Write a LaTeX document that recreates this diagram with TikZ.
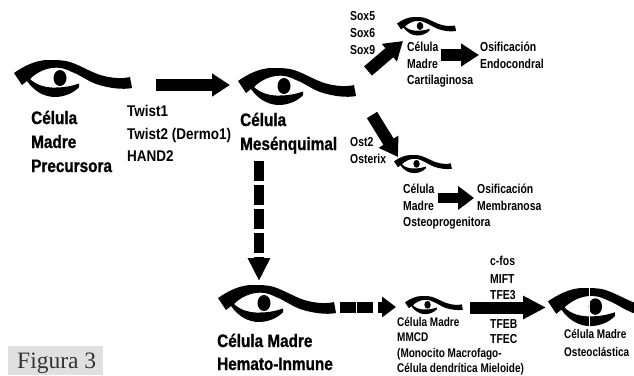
\documentclass[tikz,border=0pt]{standalone}
\usepackage{fontspec}
\newfontfamily\heavylab{Liberation Sans Bold}[FakeStretch=0.85,FakeBold=1.0]
\newfontfamily\midlab{Liberation Sans Bold}[FakeStretch=0.87]
\newfontfamily\smalllab{Liberation Sans Bold}[FakeStretch=0.80]
\newfontfamily\serifcap{Liberation Serif}
\usetikzlibrary{arrows.meta}
\tikzset{
  x=1pt,y=-1pt,
  big/.style={anchor=base west,inner sep=0pt,font=\fontsize{18}{18}\selectfont\heavylab},
  mid/.style={anchor=base west,inner sep=0pt,font=\fontsize{15.5}{15.5}\selectfont\midlab},
  small/.style={anchor=base west,inner sep=0pt,font=\fontsize{13}{13}\selectfont\smalllab},
  tiny/.style={anchor=base west,inner sep=0pt,font=\fontsize{12.5}{12.5}\selectfont\smalllab},
  eye/.pic={
    \fill[black] (0,13) .. controls (10,6) and (22,0) .. (34,0)
      .. controls (42,0) and (50,0) .. (56,2)
      .. controls (68,6) and (80,14) .. (90,16)
      .. controls (98,18) and (108,19) .. (116,17)
      -- (118,28)
      .. controls (108,30) and (94,28) .. (82,24)
      .. controls (72,20) and (66,15) .. (58,12)
      .. controls (50,8) and (44,7) .. (38,8)
      .. controls (30,9) and (22,13) .. (16,19)
      .. controls (22,25) and (32,28) .. (42,27.5)
      .. controls (50,27.5) and (58,26) .. (65,23.5)
      -- (65,27)
      .. controls (60,33) and (50,37) .. (41,37)
      .. controls (30,37) and (20,31) .. (13,21)
      -- (8,25) -- cycle;
    \fill[black] (46,18) ellipse [x radius=6.5,y radius=8];
  },
  blockarrow/.style={line width=#1,draw=black},
  tipA/.style={-{Triangle[width=22pt,length=18pt,fill=black]}},
}
\begin{document}
\begin{tikzpicture}
\clip (0,0) rectangle (634,375);
\fill[white] (0,0) rectangle (634,375);

% eyes
\pic at (14,60) {eye};
\pic at (238,68) {eye};
\pic at (218,285) {eye};
\pic[scale=0.5] at (397,17) {eye};
\pic[scale=0.49] at (394,155) {eye};
\pic[scale=0.49] at (405,296) {eye};
\pic[scale=1.03] at (548,288) {eye};
\draw[white,line width=1pt] (589,286) -- (589,330);

% connector ends
\coordinate (a1) at (156,85);  \coordinate (b1) at (230,85);
\coordinate (a2) at (259,161); \coordinate (b2) at (259,281);
\coordinate (a3) at (368,71);  \coordinate (b3) at (403,41);
\coordinate (a4) at (441,55);  \coordinate (b4) at (479,55);
\coordinate (a5) at (372,115); \coordinate (b5) at (398,157);
\coordinate (a6) at (438,198); \coordinate (b6) at (474,198);
\coordinate (a7) at (340,307); \coordinate (b7) at (396,307);
\coordinate (a8) at (470,307.5); \coordinate (b8) at (546,307.5);

% connectors
\draw[blockarrow=12pt,tipA] (a1) -- (b1);
\draw[blockarrow=10pt,dash pattern=on 20pt off 4pt,-{Triangle[width=21pt,length=23pt,fill=black]}] (a2) -- (b2);
\draw[blockarrow=12pt,tipA] (a3) -- (b3);
\draw[blockarrow=12pt,tipA] (a4) -- (b4);
\draw[blockarrow=12pt,tipA] (a5) -- (b5);
\draw[blockarrow=10pt,-{Triangle[width=23pt,length=16pt,fill=black]}] (a6) -- (b6);
\draw[blockarrow=11pt,dash pattern=on 16pt off 1pt on 16pt off 5pt,-{Triangle[width=20pt,length=14pt,fill=black]}] (a7) -- (b7);
\draw[blockarrow=12pt,-{Triangle[width=22pt,length=23pt,fill=black]}] (a8) -- (b8);

% labels
\node[big] (t1) at (31,124) {Célula};
\node[big] (t2) at (31,148) {Madre};
\node[big] (t3) at (31,172) {Precursora};
\node[mid] (t4) at (127,116) {Twist1};
\node[mid] (t5) at (127,139) {Twist2 (Dermo1)};
\node[mid] (t6) at (127,161) {HAND2};
\node[big] (t7) at (240,126) {Célula};
\node[big] (t8) at (240,150) {Mesénquimal};
\node[small] (t9) at (350,20) {Sox5};
\node[small] (t10) at (350,37) {Sox6};
\node[small] (t11) at (350,54) {Sox9};
\node[small] (t12) at (407,51) {Célula};
\node[small] (t13) at (407,68) {Madre};
\node[small] (t14) at (407,84) {Cartilaginosa};
\node[small] (t15) at (480,51) {Osificación};
\node[small] (t16) at (480,68) {Endocondral};
\node[small] (t17) at (350,146) {Ost2};
\node[small] (t18) at (350,163) {Osterix};
\node[small] (t19) at (403,193) {Célula};
\node[small] (t20) at (403,210) {Madre};
\node[small] (t21) at (403,226) {Osteoprogenitora};
\node[small] (t22) at (477,193) {Osificación};
\node[small] (t23) at (477,210) {Membranosa};
\node[big] (t24) at (217,347) {Célula Madre};
\node[big] (t25) at (217,370) {Hemato-Inmune};
\node[tiny] (t26) at (397,326) {Célula Madre};
\node[tiny] (t27) at (397,341) {MMCD};
\node[tiny] (t28) at (397,357) {(Monocito Macrofago-};
\node[tiny] (t29) at (397,372) {Célula dendrítica Mieloide)};
\node[small] (t30) at (490,265) {c-fos};
\node[small] (t31) at (490,283) {MIFT};
\node[small] (t32) at (490,299) {TFE3};
\node[small] (t33) at (490,328) {TFEB};
\node[small] (t34) at (490,343) {TFEC};
\node[tiny] (t35) at (564,338) {Célula Madre};
\node[tiny] (t36) at (564,356) {Osteoclástica};

% caption
\fill[black!12] (8,346) rectangle (103,375);
\node[anchor=base west,inner sep=0pt,text=black!80,font=\fontsize{23.5}{23.5}\selectfont\serifcap] (cap) at (17,368) {Figura 3};
\end{tikzpicture}
\end{document}
